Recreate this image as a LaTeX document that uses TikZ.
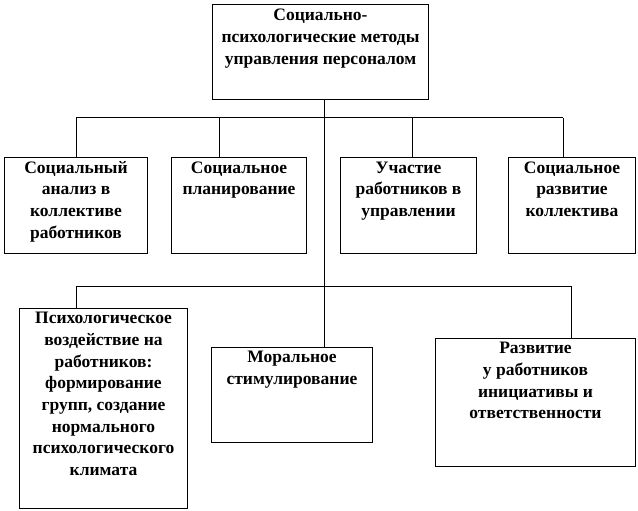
\documentclass[tikz,border=0pt]{standalone}
\usepackage{fontspec}
\setmainfont{Liberation Serif}
\newcommand\myfirststrut{\rule{0pt}{15pt}}
\begin{document}
\begin{tikzpicture}[x=1pt,y=-1pt,
  box/.style={draw, line width=1pt, inner sep=0pt, anchor=north west},
  lbl/.style={font=\bfseries\fontsize{17.5}{21.7}\selectfont, align=center, inner sep=0pt, anchor=north},
  link/.style={line width=1pt}]
\useasboundingbox[fill=white] (0,0) rectangle (638,511);
% boxes
\node[box, minimum width=216pt, minimum height=95pt] (top) at (212,4) {};
\node[box, minimum width=143pt, minimum height=96pt] (b1) at (4,157) {};
\node[box, minimum width=135pt, minimum height=96pt] (b2) at (171,157) {};
\node[box, minimum width=136pt, minimum height=96pt] (b3) at (340,157) {};
\node[box, minimum width=127pt, minimum height=96pt] (b4) at (508,157) {};
\node[box, minimum width=168pt, minimum height=200pt] (b5) at (19,308) {};
\node[box, minimum width=161pt, minimum height=95pt] (b6) at (211,347) {};
\node[box, minimum width=200pt, minimum height=128pt] (b7) at (435,338) {};
% texts
\node[lbl] (ttop) at ([yshift=-1.5pt]top.north) {\myfirststrut Социально-\\психологические методы\\управления персоналом};
\node[lbl] (t1) at ([yshift=-1pt]b1.north) {\myfirststrut Социальный\\анализ в\\коллективе\\работников};
\node[lbl] (t2) at ([yshift=-1pt]b2.north) {\myfirststrut Социальное\\планирование};
\node[lbl] (t3) at ([yshift=-1pt]b3.north) {\myfirststrut Участие\\работников в\\управлении};
\node[lbl] (t4) at ([yshift=-1pt]b4.north) {\myfirststrut Социальное\\развитие\\коллектива};
\node[lbl] (t5) at ([yshift=-0.5pt]b5.north) {\myfirststrut Психологическое\\воздействие на\\работников:\\формирование\\групп, создание\\нормального\\психологического\\климата};
\node[lbl] (t6) at ([yshift=-0.5pt]b6.north) {\myfirststrut Моральное\\стимулирование};
\node[lbl] (t7) at ([yshift=-0.5pt]b7.north) {\myfirststrut Развитие\\у работников\\инициативы и\\ответственности};
% connectors
\coordinate (h1) at (324,118);
\coordinate (r1l) at (76,118);
\coordinate (r1r) at (563,118);
\coordinate (d2) at (219,118);
\coordinate (d3) at (412,118);
\coordinate (h2) at (324,286);
\coordinate (r2l) at (76,286);
\coordinate (r2r) at (571,286);
\draw[link] (top.south -| h1) -- (h1 |- b6.north);
\draw[link] (r1l) -- (r1r);
\draw[link] (r1l) -- (r1l |- b1.north);
\draw[link] (d2) -- (d2 |- b2.north);
\draw[link] (d3) -- (d3 |- b3.north);
\draw[link] (r1r) -- (r1r |- b4.north);
\draw[link] (r2l) -- (r2r);
\draw[link] (r2l) -- (r2l |- b5.north);
\draw[link] (r2r) -- (r2r |- b7.north);
\end{tikzpicture}
\end{document}
